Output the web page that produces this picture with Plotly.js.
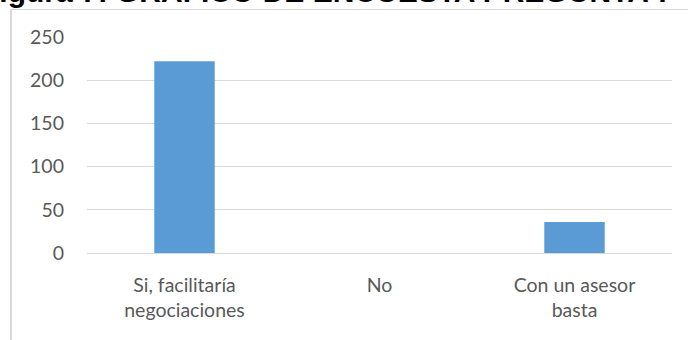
<!DOCTYPE html>
<html>
<head>
<meta charset="utf-8">
<script src="https://cdn.plot.ly/plotly-3.0.1.min.js"></script>
<style>
  html, body { margin: 0; padding: 0; background: #ffffff; }
  #wrap { position: relative; width: 688px; height: 340px; overflow: hidden; }
  #chart { width: 688px; height: 340px; }
  #frame { position: absolute; left: 10px; top: 9px; width: 700px; height: 400px;
           border-left: 2px solid #d9d9d9; border-top: 1px solid #d9d9d9; pointer-events: none; }
</style>
</head>
<body>
<div id="wrap">
  <div id="chart"></div>
  <div id="frame"></div>
</div>
<script>
const categories = ["Si, facilitaría negociaciones", "No", "Con un asesor basta"];
const tickLabels = ["Si, facilitaría<br>negociaciones", "No", "Con un asesor<br>basta"];
const values = [222, 0, 36];
const yTicks = [0, 50, 100, 150, 200, 250];
const titleText = "Figura 7: GRÁFICO DE ENCUESTA PREGUNTA 7";

const trace = {
  type: "bar",
  x: categories,
  y: values,
  marker: { color: "#5b9bd5", line: { color: "#ffffff", width: 0 } },
  hoverinfo: "none"
};

const layout = {
  width: 688,
  height: 340,
  margin: { l: 87, r: 16, t: 37, b: 87 },
  paper_bgcolor: "#ffffff",
  plot_bgcolor: "#ffffff",
  showlegend: false,
  bargap: 0.69,
  font: { family: "Lato, 'Open Sans', sans-serif", size: 19.5, color: "#595959" },
  xaxis: {
    type: "category",
    tickmode: "array",
    tickvals: categories,
    ticktext: tickLabels,
    showgrid: false,
    showline: false,
    ticks: "",
    ticklabelstandoff: 18,
    tickfont: { size: 19.5, color: "#595959" },
    fixedrange: true
  },
  yaxis: {
    range: [0, 250],
    tickmode: "array",
    tickvals: yTicks,
    showgrid: true,
    gridcolor: "#d9d9d9",
    gridwidth: 1,
    zeroline: true,
    zerolinecolor: "#d9d9d9",
    zerolinewidth: 1,
    showline: false,
    ticks: "",
    ticklabelstandoff: 22,
    tickfont: { size: 19.5, color: "#595959" },
    fixedrange: true
  },
  annotations: [{
    text: "<b>" + titleText + "</b>",
    xref: "paper", yref: "paper",
    x: -0.185, y: 1.126,
    xanchor: "left", yanchor: "bottom",
    showarrow: false,
    font: { family: "'Liberation Sans', Arial, sans-serif", size: 30, color: "#000000" }
  }]
};

Plotly.newPlot("chart", [trace], layout, { staticPlot: true, displayModeBar: false });
</script>
</body>
</html>
